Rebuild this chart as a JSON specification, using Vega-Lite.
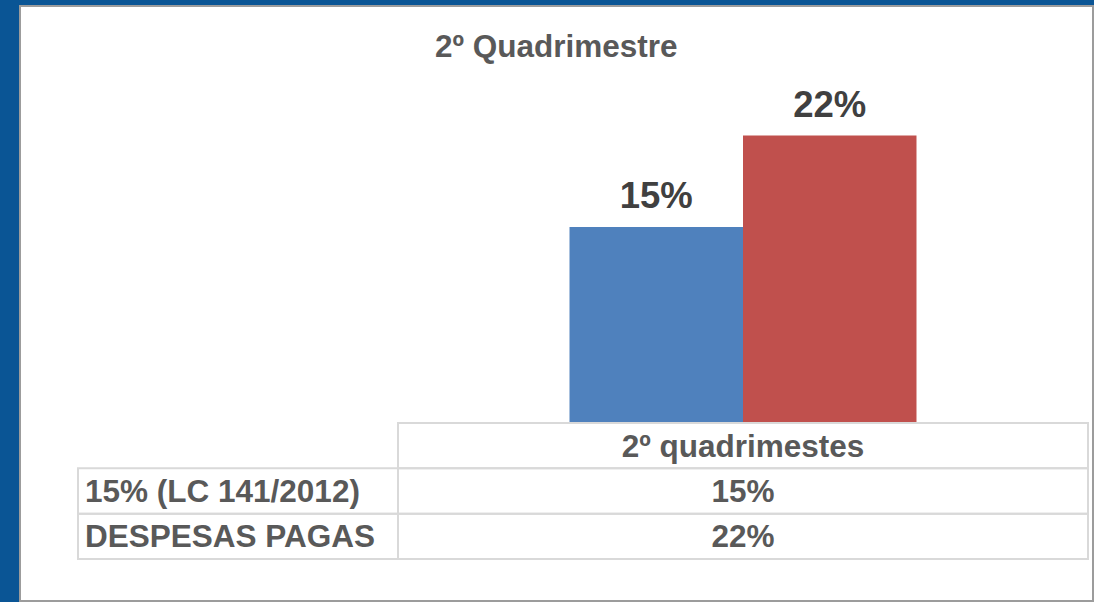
{
  "$schema": "https://vega.github.io/schema/vega-lite/v6.json",
  "width": 1073,
  "height": 595,
  "autosize": {"type": "none"},
  "padding": {"left": 20, "top": 6, "right": 1, "bottom": 1},
  "background": "#0a5595",
  "config": {
    "view": {"fill": "white", "stroke": "#9c9c9c", "strokeWidth": 2},
    "font": "Liberation Sans"
  },
  "title": {
    "text": "2º Quadrimestre",
    "anchor": "start",
    "frame": "group",
    "dx": 415,
    "offset": -82,
    "baseline": "alphabetic",
    "fontSize": 31.5,
    "fontWeight": "bold",
    "color": "#595959"
  },
  "datasets": {
    "series": [
      {"serie": "15% (LC 141/2012)", "quadrimestre": "2º quadrimestes", "valor": 0.15},
      {"serie": "DESPESAS PAGAS", "quadrimestre": "2º quadrimestes", "valor": 0.22}
    ],
    "cabecalho": [
      {"quadrimestre": "2º quadrimestes"}
    ]
  },
  "resolve": {"scale": {"x": "independent", "y": "independent", "xOffset": "independent", "color": "independent"}},
  "layer": [
    {
      "data": {"name": "series"},
      "mark": {"type": "bar"},
      "encoding": {
        "x": {"field": "quadrimestre", "type": "nominal", "axis": null,
              "scale": {"type": "band", "domain": ["2º quadrimestes"], "paddingInner": 0, "paddingOuter": 0.277536, "align": 0.98695}},
        "xOffset": {"field": "serie", "type": "nominal",
              "scale": {"type": "band", "domain": ["15% (LC 141/2012)", "DESPESAS PAGAS"], "paddingInner": 0, "paddingOuter": 0.9885, "align": 0.5}},
        "y": {"field": "valor", "type": "quantitative", "axis": null,
              "scale": {"domain": [-0.13622, 0.31913], "nice": false, "zero": false}},
        "y2": {"datum": 0},
        "color": {"field": "serie", "type": "nominal", "legend": null,
              "scale": {"domain": ["15% (LC 141/2012)", "DESPESAS PAGAS"], "range": ["#4f81bd", "#c0504d"]}}
      }
    },
    {
      "data": {"name": "series"},
      "mark": {"type": "text", "baseline": "alphabetic", "dy": -19, "fontSize": 36.5, "fontWeight": "bold", "color": "#404040"},
      "encoding": {
        "x": {"field": "quadrimestre", "type": "nominal", "axis": null,
              "scale": {"type": "band", "domain": ["2º quadrimestes"], "paddingInner": 0, "paddingOuter": 0.277536, "align": 0.98695}},
        "xOffset": {"field": "serie", "type": "nominal",
              "scale": {"type": "band", "domain": ["15% (LC 141/2012)", "DESPESAS PAGAS"], "paddingInner": 0, "paddingOuter": 0.9885, "align": 0.5}},
        "y": {"field": "valor", "type": "quantitative", "axis": null,
              "scale": {"domain": [-0.13622, 0.31913], "nice": false, "zero": false}},
        "text": {"field": "valor", "type": "quantitative", "format": ".0%"}
      }
    },
    {
      "data": {"name": "series"},
      "mark": {"type": "rect", "fill": "transparent", "stroke": "#d9d9d9", "strokeWidth": 2},
      "encoding": {
        "x": {"field": "quadrimestre", "type": "nominal", "axis": null,
              "scale": {"type": "band", "domain": ["2º quadrimestes"], "paddingInner": 0, "paddingOuter": 0.277536, "align": 0.98695}},
        "y": {"field": "serie", "type": "nominal", "axis": null,
              "scale": {"type": "band", "domain": ["cabeçalho", "15% (LC 141/2012)", "DESPESAS PAGAS"], "paddingInner": 0, "paddingOuter": 0, "range": [417, 553]}}
      }
    },
    {
      "data": {"name": "cabecalho"},
      "mark": {"type": "rect", "fill": "transparent", "stroke": "#d9d9d9", "strokeWidth": 2},
      "encoding": {
        "x": {"field": "quadrimestre", "type": "nominal", "axis": null,
              "scale": {"type": "band", "domain": ["2º quadrimestes"], "paddingInner": 0, "paddingOuter": 0.277536, "align": 0.98695}},
        "y": {"datum": "cabeçalho", "type": "nominal", "axis": null,
              "scale": {"type": "band", "domain": ["cabeçalho", "15% (LC 141/2012)", "DESPESAS PAGAS"], "paddingInner": 0, "paddingOuter": 0, "range": [417, 553]}}
      }
    },
    {
      "data": {"name": "series"},
      "mark": {"type": "rect", "fill": "transparent", "stroke": "#d9d9d9", "strokeWidth": 2},
      "encoding": {
        "x": {"datum": "série", "type": "nominal", "axis": null,
              "scale": {"type": "band", "domain": ["série"], "paddingInner": 0, "paddingOuter": 0, "range": [58, 378]}},
        "y": {"field": "serie", "type": "nominal", "axis": null,
              "scale": {"type": "band", "domain": ["cabeçalho", "15% (LC 141/2012)", "DESPESAS PAGAS"], "paddingInner": 0, "paddingOuter": 0, "range": [417, 553]}}
      }
    },
    {
      "data": {"name": "cabecalho"},
      "mark": {"type": "text", "baseline": "alphabetic", "dy": 11, "fontSize": 31.5, "fontWeight": "bold", "color": "#595959"},
      "encoding": {
        "x": {"field": "quadrimestre", "type": "nominal", "axis": null,
              "scale": {"type": "band", "domain": ["2º quadrimestes"], "paddingInner": 0, "paddingOuter": 0.277536, "align": 0.98695}},
        "y": {"datum": "cabeçalho", "type": "nominal", "axis": null,
              "scale": {"type": "band", "domain": ["cabeçalho", "15% (LC 141/2012)", "DESPESAS PAGAS"], "paddingInner": 0, "paddingOuter": 0, "range": [417, 553]}},
        "text": {"field": "quadrimestre", "type": "nominal"}
      }
    },
    {
      "data": {"name": "series"},
      "mark": {"type": "text", "baseline": "alphabetic", "dy": 11, "fontSize": 31.5, "fontWeight": "bold", "color": "#595959"},
      "encoding": {
        "x": {"field": "quadrimestre", "type": "nominal", "axis": null,
              "scale": {"type": "band", "domain": ["2º quadrimestes"], "paddingInner": 0, "paddingOuter": 0.277536, "align": 0.98695}},
        "y": {"field": "serie", "type": "nominal", "axis": null,
              "scale": {"type": "band", "domain": ["cabeçalho", "15% (LC 141/2012)", "DESPESAS PAGAS"], "paddingInner": 0, "paddingOuter": 0, "range": [417, 553]}},
        "text": {"field": "valor", "type": "quantitative", "format": ".0%"}
      }
    },
    {
      "data": {"name": "series"},
      "mark": {"type": "text", "align": "left", "baseline": "alphabetic", "dx": 7, "dy": 11, "fontSize": 31.5, "fontWeight": "bold", "color": "#595959"},
      "encoding": {
        "x": {"datum": "série", "type": "nominal", "axis": null, "bandPosition": 0,
              "scale": {"type": "band", "domain": ["série"], "paddingInner": 0, "paddingOuter": 0, "range": [58, 378]}},
        "y": {"field": "serie", "type": "nominal", "axis": null,
              "scale": {"type": "band", "domain": ["cabeçalho", "15% (LC 141/2012)", "DESPESAS PAGAS"], "paddingInner": 0, "paddingOuter": 0, "range": [417, 553]}},
        "text": {"field": "serie", "type": "nominal"}
      }
    }
  ]
}
